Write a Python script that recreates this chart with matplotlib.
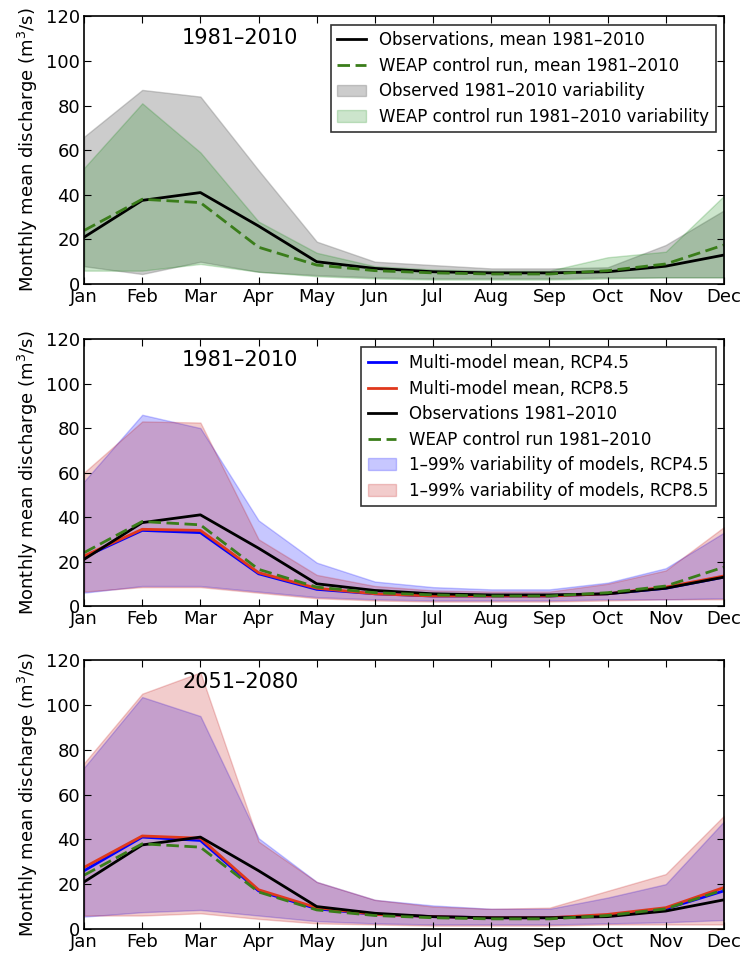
import numpy as np
import matplotlib
matplotlib.use("Agg")
import matplotlib.pyplot as plt

months = ["Jan", "Feb", "Mar", "Apr", "May", "Jun", "Jul", "Aug", "Sep", "Oct", "Nov", "Dec"]

# observed and WEAP control run, 1981-2010
obs_mean = [21, 37.5, 41, 26, 10, 7, 5.5, 5, 5, 5.5, 8, 13]
weap_mean = [24, 38, 36.5, 16.5, 8.5, 6, 5, 4.5, 4.5, 6, 9, 17.5]
obs_hi = [66, 87, 84, 51, 19, 10, 8.5, 7, 7, 7.5, 17.5, 33]
obs_lo = [8, 4.5, 10, 5.5, 4, 3, 2.5, 2.5, 2.5, 3, 3, 3]
weap_hi = [52, 81, 59, 28, 14, 8, 6.5, 6, 6, 12, 14.5, 39.5]
weap_lo = [6, 6, 9, 5.5, 3.5, 2.5, 2, 2, 2, 2.5, 3, 3]

# multi-model results, 1981-2010
ref45_mean = [22, 34, 33, 14.5, 7.5, 5.5, 4.5, 4.5, 4.5, 5.5, 8, 13]
ref85_mean = [22.5, 34.5, 34, 15, 8, 5.5, 4.5, 4.5, 4.5, 5.5, 8.5, 13.5]
ref45_hi = [56, 86, 80, 38.5, 19.5, 11, 8.5, 7.5, 7.5, 10.5, 17, 33]
ref45_lo = [6, 9, 9, 6.5, 4, 3, 2.5, 2.5, 2.5, 3, 3, 3.5]
ref85_hi = [60, 83, 82.5, 30, 14, 9, 7, 6.5, 6.5, 10, 16, 35.5]
ref85_lo = [6.5, 8.5, 8.5, 6, 3.5, 2.5, 2, 2, 2, 2.5, 3, 3]

# multi-model results, 2051-2080
fut45_mean = [26, 41, 39.5, 17, 9, 6.5, 5.5, 5, 5, 6, 9, 17]
fut85_mean = [27.5, 41.5, 40.5, 17.5, 9.5, 6.5, 5.5, 5, 5, 6.5, 9.5, 18.5]
fut45_hi = [72, 103.5, 95, 40.5, 21, 13, 10.5, 9, 9, 14, 20, 48]
fut45_lo = [5.5, 7.5, 8.5, 6, 3.5, 2.5, 2, 2, 2, 2.5, 3, 4]
fut85_hi = [74, 105, 114.5, 39, 21, 13, 10, 9, 9.5, 17, 24.5, 50.5]
fut85_lo = [6, 6, 7, 4.5, 2.5, 2, 1.5, 1.5, 1.5, 2, 2, 2]

x = np.arange(12)
green = "#3a7d1a"
red = "#e0381c"

fig = plt.figure(figsize=(7.44, 9.58), dpi=100)
boxes = [(0.113, 0.7035, 0.86, 0.2795),
         (0.113, 0.3674, 0.86, 0.2786),
         (0.113, 0.0303, 0.86, 0.2807)]
axes = [fig.add_axes(b) for b in boxes]

def style(ax, title):
    ax.set_xlim(0, 11)
    ax.set_ylim(0, 120)
    ax.set_xticks(x)
    ax.set_xticklabels(months)
    ax.set_yticks(range(0, 121, 20))
    ax.tick_params(direction="in", top=True, right=True, length=5, labelsize=13, pad=3)
    for s in ax.spines.values():
        s.set_linewidth(1.2)
    ax.set_ylabel("Monthly mean discharge (m$^3$/s)", fontsize=13)
    ax.text(0.244, 0.92, title, transform=ax.transAxes, ha="center", va="center", fontsize=15)

def boxed_legend(ax, handles, labels):
    leg = ax.legend(handles, labels, loc="upper right", fontsize=12, fancybox=False,
                    handlelength=1.7, labelspacing=0.45, borderpad=0.4, borderaxespad=0.5)
    leg.get_frame().set_edgecolor("black")
    leg.get_frame().set_linewidth(1.2)

# top: observations vs control run
ax = axes[0]
f_obs = ax.fill_between(x, obs_lo, obs_hi, color="gray", alpha=0.4)
f_weap = ax.fill_between(x, weap_lo, weap_hi, color="green", alpha=0.2)
l_obs, = ax.plot(x, obs_mean, color="black", lw=2)
l_weap, = ax.plot(x, weap_mean, color=green, lw=2, dashes=(4.5, 2))
style(ax, "1981\u20132010")
boxed_legend(ax, [l_obs, l_weap, f_obs, f_weap],
             ["Observations, mean 1981\u20132010", "WEAP control run, mean 1981\u20132010",
              "Observed 1981\u20132010 variability", "WEAP control run 1981\u20132010 variability"])

def scenario_panel(ax, m45, m85, lo45, hi45, lo85, hi85, title, with_legend):
    f45 = ax.fill_between(x, lo45, hi45, color="blue", alpha=0.22)
    f85 = ax.fill_between(x, lo85, hi85, color=(0.75, 0, 0), alpha=0.2)
    l45, = ax.plot(x, m45, color="blue", lw=2)
    l85, = ax.plot(x, m85, color=red, lw=2)
    lo, = ax.plot(x, obs_mean, color="black", lw=2)
    lw_, = ax.plot(x, weap_mean, color=green, lw=2, dashes=(4.5, 2))
    style(ax, title)
    if with_legend:
        boxed_legend(ax, [l45, l85, lo, lw_, f45, f85],
                     ["Multi-model mean, RCP4.5", "Multi-model mean, RCP8.5",
                      "Observations 1981\u20132010", "WEAP control run 1981\u20132010",
                      "1\u201399% variability of models, RCP4.5",
                      "1\u201399% variability of models, RCP8.5"])

scenario_panel(axes[1], ref45_mean, ref85_mean, ref45_lo, ref45_hi, ref85_lo, ref85_hi, "1981\u20132010", True)
scenario_panel(axes[2], fut45_mean, fut85_mean, fut45_lo, fut45_hi, fut85_lo, fut85_hi, "2051\u20132080", False)

fig.savefig("out.png", dpi=100)
